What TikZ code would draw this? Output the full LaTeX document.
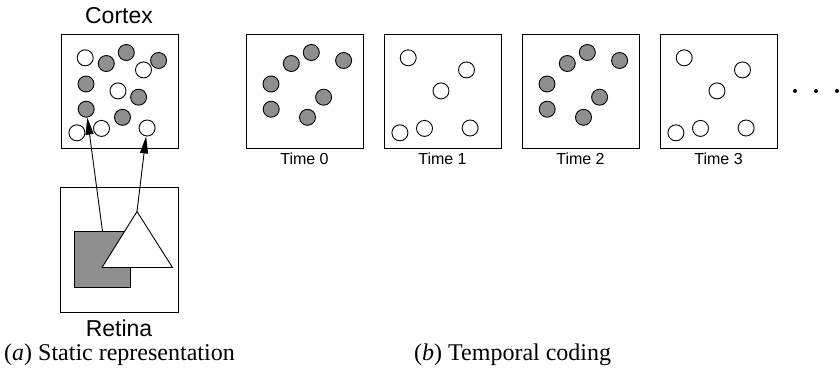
\documentclass[tikz,border=0pt]{standalone}
\usepackage{fontspec}
\setmainfont{Liberation Serif}
\newfontfamily\labelfont{Liberation Sans}
\usetikzlibrary{arrows.meta}
\definecolor{unitgray}{RGB}{143,143,143}
\tikzset{
  panel/.style={draw, line width=1.1pt, rectangle, minimum width=117pt, minimum height=114pt, inner sep=0pt, anchor=north west},
  unit/.style={circle, draw, line width=0.9pt, minimum size=16pt, inner sep=0pt},
  active/.style={unit, fill=unitgray},
  silent/.style={unit, fill=white},
  title/.style={font=\labelfont\fontsize{23}{27}\selectfont, inner sep=0pt, anchor=base},
  timelabel/.style={font=\labelfont\fontsize{16}{19}\selectfont, inner sep=0pt, anchor=base},
  caption/.style={font=\fontsize{24}{28}\selectfont, inner sep=0pt, anchor=base west},
  feed/.style={-{Triangle[length=17pt,width=8pt]}, line width=0.9pt},
}
% unit positions inside a panel, measured from its top-left corner
\newcommand\graypos{25/50.5, 25.2/75.7, 45.3/30, 65.3/19, 97.6/27, 77.6/63.7, 61.5/83.8}
\newcommand\whitepos{24.2/24.3, 82.5/36.4, 57/57.4, 15.9/99.3, 40.5/94.9, 86.1/94.5}
\begin{document}
\begin{tikzpicture}[x=1pt, y=-1pt]
\useasboundingbox (0,0) rectangle (840,368);

% ---- (a) static representation ----
\node[title] (cortexlabel) at (119,23) {Cortex};
\node[panel] (cortex) at (61,33.5) {};
\begin{scope}[shift={(61,33.5)}]
  \foreach \x/\y [count=\i] in \graypos
    \node[active] (cg\i) at (\x,\y) {};
  \foreach \x/\y [count=\i] in \whitepos
    \node[silent] (cw\i) at (\x,\y) {};
\end{scope}

\node[panel, minimum width=118pt, minimum height=125pt] (retina) at (60,187) {};
\node[draw, fill=unitgray, line width=0.9pt, minimum size=56pt, inner sep=0pt, anchor=north west] (sq) at (74,231) {};
\coordinate (apex) at (137,211.5);
\draw[line width=0.9pt, fill=white, line join=miter] (apex) -- (102,267.5) -- (172.5,267.5) -- cycle;
\node[title] (retinalabel) at (119,336.5) {Retina};

\draw[feed] (sq.north) -- (cg2);
\draw[feed] (apex) -- (cw6);

\node[caption] (capa) at (4,360) {(\textit{a}) Static representation};

% ---- (b) temporal coding ----
\foreach \k in {0,...,3} {
  \node[panel] (t\k) at (246+138*\k,33.5) {};
  \node[timelabel] (tl\k) at (304.5+138*\k,164) {Time \k};
  \begin{scope}[shift={(246+138*\k,33.5)}]
    \ifodd\k
      \foreach \x/\y [count=\i] in \whitepos
        \node[silent] (t\k u\i) at (\x,\y) {};
    \else
      \foreach \x/\y [count=\i] in \graypos
        \node[active] (t\k u\i) at (\x,\y) {};
    \fi
  \end{scope}
}
\foreach \x in {795,816,837}
  \fill (\x,91) circle[radius=2pt];

\node[caption] (capb) at (414,360) {(\textit{b}) Temporal coding};
\end{tikzpicture}
\end{document}
